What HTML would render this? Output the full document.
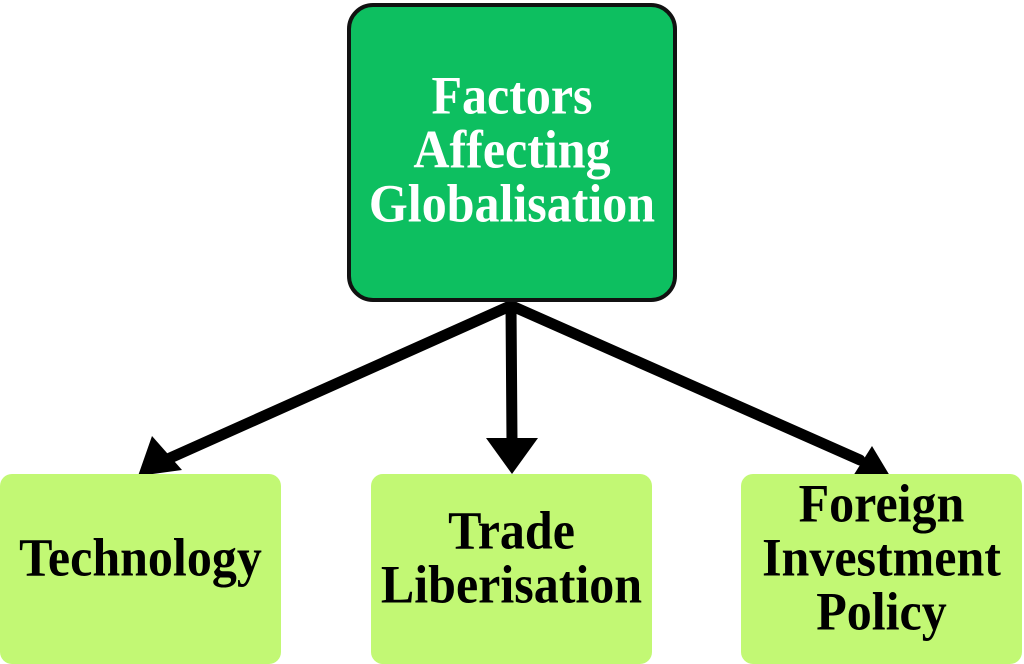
<!DOCTYPE html>
<html><head><meta charset="utf-8"><style>
body{margin:0;width:1024px;height:656px;background:#fff;position:relative;overflow:hidden;font-family:"Liberation Serif",serif;font-weight:bold}
.top{position:absolute;left:347px;top:3px;width:322px;height:291px;background:#0dbf60;border:4px solid #111;border-radius:26px;box-sizing:content-box}
.b{position:absolute;top:474px;height:190px;width:281px;background:#c2f874;border-radius:12px}
.t{position:absolute;left:0;width:100%;text-align:center;white-space:nowrap;line-height:50px;transform:scaleY(1.08)}
</style></head><body>
<svg width="1024" height="656" style="position:absolute;left:0;top:0">
<g stroke="#000" stroke-width="11" stroke-linecap="round">
<line x1="510" y1="306" x2="170" y2="458"/>
<line x1="511" y1="306" x2="512" y2="442"/>
<line x1="512" y1="306" x2="860" y2="460"/>
</g>
<polygon points="138,476 152,436 182,470" fill="#000"/>
<polygon points="486,438 538,438 512,474" fill="#000"/>
<polygon points="890,476 848,484 872,446" fill="#000"/>
</svg>
<div class="top"><div class="t" style="top:67px;color:#fff;font-size:50px">Factors<br>Affecting<br>Globalisation</div></div>
<div class="b" style="left:0"><div class="t" style="top:58px;font-size:50px">Technology</div></div>
<div class="b" style="left:371px"><div class="t" style="top:33px;font-size:50px">Trade<br>Liberisation</div></div>
<div class="b" style="left:741px"><div class="t" style="top:8px;font-size:50px">Foreign<br>Investment<br>Policy</div></div>
</body></html>
